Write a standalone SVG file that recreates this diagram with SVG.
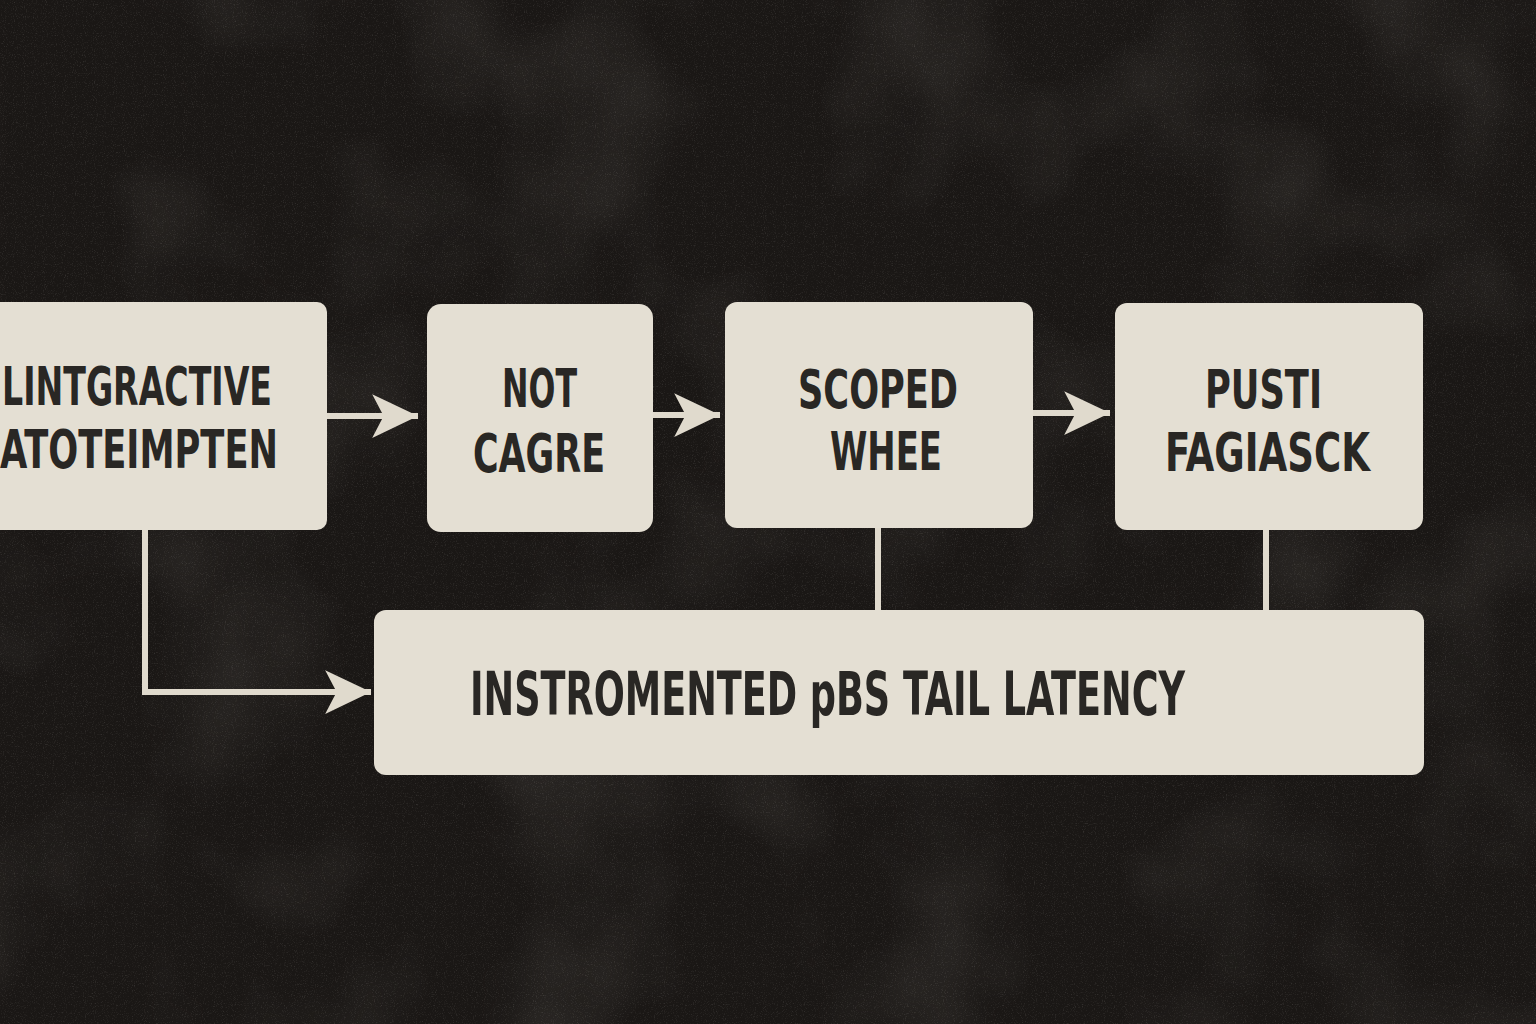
<svg xmlns="http://www.w3.org/2000/svg" width="1536" height="1024" viewBox="0 0 1536 1024">
  <style>
    .box { fill: #e4dfd3; }
    .lbl { font-family: "Liberation Sans Narrow", "DejaVu Sans Condensed", "Roboto Condensed", sans-serif; font-weight: bold; font-size: 54px; fill: #292724; font-stretch: condensed; }
    .big { font-size: 60px; }
    .wire { fill: none; stroke: #e0dacd; stroke-width: 6; }
  </style>
  <defs>
    <marker id="arr" markerUnits="userSpaceOnUse" markerWidth="50" markerHeight="50" viewBox="-46 -23 48 46" refX="0" refY="0" orient="auto">
      <path d="M0,0 L-44,-21 L-33,0 L-44,21 Z" fill="#e0dacd"/>
    </marker>
    <filter id="grain" x="0" y="0" width="100%" height="100%">
      <feTurbulence type="fractalNoise" baseFrequency="0.9" numOctaves="2" seed="4" result="n"/>
      <feColorMatrix in="n" type="matrix" values="0 0 0 0 0.55  0 0 0 0 0.53  0 0 0 0 0.5  0 0 0 1.4 -0.75"/>
    </filter>
    <filter id="blotch" x="0" y="0" width="100%" height="100%">
      <feTurbulence type="fractalNoise" baseFrequency="0.006" numOctaves="3" seed="9" result="n"/>
      <feColorMatrix in="n" type="matrix" values="0 0 0 0 0.3  0 0 0 0 0.28  0 0 0 0 0.26  0 0 0 0.9 -0.4"/>
    </filter>
  </defs>

  <rect width="1536" height="1024" fill="#1a1715"/>
  <rect width="1536" height="1024" filter="url(#blotch)" opacity="0.35"/>
  <rect width="1536" height="1024" filter="url(#grain)" opacity="0.3"/>

  <g id="connectors">
    <path class="wire" d="M327,416 L418,416" marker-end="url(#arr)"/>
    <path class="wire" d="M653,415 L720,415" marker-end="url(#arr)"/>
    <path class="wire" d="M1033,413 L1110,413" marker-end="url(#arr)"/>
    <path class="wire" d="M145,528 L145,692 L371,692" marker-end="url(#arr)"/>
    <path class="wire" d="M878,528 L878,612"/>
    <path class="wire" d="M1266,528 L1266,612"/>
  </g>

  <g id="node1">
    <rect class="box" x="-20" y="302" width="347" height="228" rx="10"/>
    <text class="lbl" x="2" y="405" textLength="270" lengthAdjust="spacingAndGlyphs">LINTGRACTIVE</text>
    <text class="lbl" x="0" y="468" textLength="278" lengthAdjust="spacingAndGlyphs">ATOTEIMPTEN</text>
  </g>

  <g id="node2">
    <rect class="box" x="427" y="304" width="226" height="228" rx="14"/>
    <text class="lbl" x="502" y="407" textLength="75" lengthAdjust="spacingAndGlyphs">NOT</text>
    <text class="lbl" x="473" y="472" textLength="132" lengthAdjust="spacingAndGlyphs">CAGRE</text>
  </g>

  <g id="node3">
    <rect class="box" x="725" y="302" width="308" height="226" rx="12"/>
    <text class="lbl" x="798" y="408" textLength="160" lengthAdjust="spacingAndGlyphs">SCOPED</text>
    <text class="lbl" x="830" y="470" textLength="112" lengthAdjust="spacingAndGlyphs">WHEE</text>
  </g>

  <g id="node4">
    <rect class="box" x="1115" y="303" width="308" height="227" rx="12"/>
    <text class="lbl" x="1205" y="408" textLength="117" lengthAdjust="spacingAndGlyphs">PUSTI</text>
    <text class="lbl" x="1165" y="471" textLength="205" lengthAdjust="spacingAndGlyphs">FAGIASCK</text>
  </g>

  <g id="node5">
    <rect class="box" x="374" y="610" width="1050" height="165" rx="12"/>
    <text class="lbl big" x="470" y="715" textLength="715" lengthAdjust="spacingAndGlyphs">INSTROMENTED pBS TAIL LATENCY</text>
  </g>
</svg>
